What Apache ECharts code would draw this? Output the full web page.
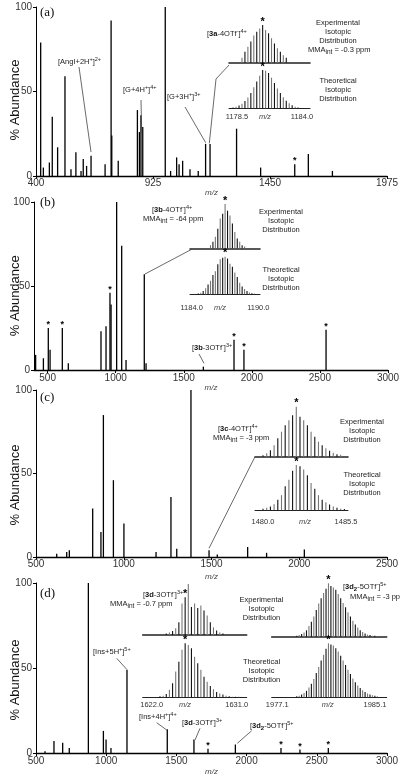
<!DOCTYPE html>
<html><head><meta charset="utf-8">
<script src="https://cdn.jsdelivr.net/npm/echarts@6/dist/echarts.min.js"></script>
<style>html,body{margin:0;padding:0;background:#fff}#c{width:400px;height:776px}</style>
</head><body><div id="c"></div>
<script>
// ---------- DATA ----------
// Panel (a)
const mzA = [421,433,460,473,497,530,557,579,602,612,627,647,710,737,740,769,855,864,871,879,980,1004,1031,1042,1058,1091,1128,1161,1181,1300,1408,1561,1622,1730];
const abA = [79,5,8,35,17,59,4,14,3,10,6,12,7,92,24,9,39,26,36,29,100,3,11,7,9,4,3,19,19,28,5,7,13,3];
const starsA = [1561];
const ticksA = [400,925,1450,1975];
// Panel (b)
const mzB = [412,469,505,518,608,652,892,929,958,966,1007,1044,1076,1210,1223,1644,1869,1942,2545];
const abB = [9,7,25,12,25,4,23,26,46,39,100,74,6,57,4,2,18,12,24];
const starsB = [505,608,958,1869,1942,2545];
const ticksB = [500,1000,1500,2000,2500,3000];
// Panel (c)
const mzC = [618,675,690,823,870,884,941,1001,1184,1269,1302,1383,1486,1533,1706,1814,2029];
const abC = [2,3,4,29,15,85,46,20,3,36,5,100,4,1.5,6,2.5,4.5];
const starsC = [];
const ticksC = [500,1000,1500,2000,2500];
// Panel (d)
const mzD = [564,628,690,737,873,980,999,1034,1148,1435,1625,1725,1920,2245,2380,2582];
const abD = [1,7,6,3,100,13,8,3,49,14,8,2.5,5,3,2,3];
const starsD = [1725,2245,2380,2582];
const ticksD = [500,1000,1500,2000,2500,3000];

// Isotopic insets: first isotope m/z, isotope spacing, theoretical / experimental heights
const isoA = {start:1178.17, step:0.25, star:10};
const theoA = [2,4,7,12,19,28,40,55,70,85,100,98,92,80,66,52,40,29,20,13,8,4,2];
const expA = [13,29,42,56,72,82,91,100,87,78,65,51,38,29,20,13]; const expAoff = 3;
const isoTicksA = [1178.5,1184.0];

const isoB = {start:1184.6, step:0.219, star:11};
const theoB = [2,4,9,16,26,36,51,61,80,93,97,100,95,81,73,58,46,31,21,14,9,5,3,2];
const expB = [7,15,26,44,67,78,100,85,74,56,37,22,15,7,4]; const expBoff = 5;
const isoTicksB = [1184.0,1190.0];

const isoC = {start:1480.0, step:0.245, star:9};
const theoC = [3,5,8,13,23,33,53,67,87,100,97,90,77,60,47,33,23,17,12,8,5,3,2];
const expC = [3,7,13,23,37,50,63,73,83,100,80,73,63,50,40,30,23,17,12,8,5,4]; const expCoff = 0;
const isoTicksC = [1480.0,1485.5];

const isoD1 = {start:1622.88, step:0.333, star:8};
const theoD1 = [2,3,6,14,26,48,66,88,100,97,91,75,63,51,38,29,21,15,10,7,5,3,2,1,1,1];
const expD1 = [3,5,8,13,25,62,74,100,55,62,53,58,48,38,25,15,9,5,3]; const expD1off = 2;
const isoTicksD1 = [1622.0,1631.0];

const isoD2 = {start:1978.69, step:0.2, star:13};
const theoD2 = [2,3,5,8,12,18,25,34,45,56,68,79,90,100,98,96,91,85,77,68,60,51,43,35,28,22,17,13,10,7,5,4,3,2];
const expD2 = [2,3,5,8,12,20,28,38,50,62,72,82,90,100,95,92,88,80,72,63,55,46,38,30,23,17,12,9,6,4,3,2,2,1]; const expD2off = 0;
const isoTicksD2 = [1977.1,1985.1];

// ---------- LAYOUT ----------
const F = "'Liberation Sans', Arial, sans-serif";
const SERIF = "'Liberation Serif', 'Times New Roman', serif";
const grids = [
  {left:36, top:7, width:351, height:169},
  {left:34, top:202, width:354, height:168},
  {left:36, top:390, width:351, height:167},
  {left:36, top:583, width:351, height:170},
  {left:229, top:25, width:81, height:37.7},
  {left:229, top:70, width:81, height:38.3},
  {left:190, top:204, width:70, height:44.3},
  {left:190, top:256.7, width:70, height:37.6},
  {left:255, top:406.7, width:93, height:50},
  {left:255, top:465, width:93, height:45},
  {left:142.7, top:584, width:104, height:51},
  {left:142.7, top:643.3, width:104, height:54},
  {left:271.7, top:583.3, width:115, height:53.4},
  {left:271.7, top:643.3, width:115, height:54}
].map(g => Object.assign({outerBoundsMode:'none', containLabel:false}, g));

const xAxes = [], yAxes = [], series = [];

function mainAxes(i, min, max, ticks, nameGap, lblMargin) {
  xAxes.push({gridIndex:i, type:'value', min, max,
    axisLine:{show:true, onZero:false, lineStyle:{color:'#000', width:1.4}},
    axisTick:{show:true, customValues:ticks, length:3, lineStyle:{color:'#000'}},
    axisLabel:{customValues:ticks, formatter:v => String(v), fontSize:10, color:'#333', fontFamily:F, margin:lblMargin},
    splitLine:{show:false},
    name:'m/z', nameLocation:'middle', nameGap,
    nameTextStyle:{fontStyle:'italic', fontSize:8, color:'#444', fontFamily:F}});
  yAxes.push({gridIndex:i, type:'value', min:0, max:100, interval:50,
    axisLine:{show:true, lineStyle:{color:'#000', width:1}},
    axisTick:{show:true, length:3, lineStyle:{color:'#000'}},
    axisLabel:{formatter:v => String(v), fontSize:10, color:'#333', fontFamily:F, margin:4},
    splitLine:{show:false}});
}
function insetAxes(i, min, max, ticks, exp, margin) {
  xAxes.push({gridIndex:i, type:'value', min, max,
    axisLine:{show:true, onZero:false, lineStyle:{color:'#222', width: exp ? 1.6 : 1}},
    axisTick:{show:false},
    axisLabel: exp ? {show:false} : {customValues:ticks, formatter:v => Number(v).toFixed(1), fontSize:7.5, color:'#333', fontFamily:F, margin},
    splitLine:{show:false}});
  yAxes.push({gridIndex:i, type:'value', min:0, max:100, show:false});
}
function spec(i, mz, ab, stars) {
  series.push({type:'bar', xAxisIndex:i, yAxisIndex:i, barWidth:1.3, silent:true, animation:false,
    itemStyle:{color:'#000'},
    data: mz.map((m, k) => {
      const d = {value:[m, ab[k]]};
      if (stars.includes(m)) d.label = {show:true, position:'top', distance:-1, formatter:'*', fontSize:9, fontWeight:'bold', color:'#000'};
      return d;
    })});
}
function iso(i, info, heights, offset) {
  series.push({type:'bar', xAxisIndex:i, yAxisIndex:i, barWidth:1.1, silent:true, animation:false,
    data: heights.map((h, k) => {
      const g = k + offset;
      const d = {value:[info.start + g * info.step, h], itemStyle:{color: g % 2 ? '#777' : '#111'}};
      if (g === info.star) d.label = {show:true, position:'top', distance:-2, formatter:'*', fontSize:11, fontWeight:'bold', color:'#000'};
      return d;
    })});
}

mainAxes(0, 400, 1975, ticksA, 12, 2);
mainAxes(1, 400, 3000, ticksB, 9, 3);
mainAxes(2, 500, 2500, ticksC, 16, 2);
mainAxes(3, 500, 3000, ticksD, 15, 3.5);
insetAxes(4, 1177.82, 1184.68, isoTicksA, true);
insetAxes(5, 1177.82, 1184.68, isoTicksA, false, 4.5);
insetAxes(6, 1183.85, 1190.15, isoTicksB, true);
insetAxes(7, 1183.85, 1190.15, isoTicksB, false, 10);
insetAxes(8, 1479.47, 1485.63, isoTicksC, true);
insetAxes(9, 1479.47, 1485.63, isoTicksC, false, 8);
insetAxes(10, 1621.05, 1632.06, isoTicksD1, true);
insetAxes(11, 1621.05, 1632.06, isoTicksD1, false, 4);
insetAxes(12, 1976.64, 1986.06, isoTicksD2, true);
insetAxes(13, 1976.64, 1986.06, isoTicksD2, false, 4);

spec(0, mzA, abA, starsA);
spec(1, mzB, abB, starsB);
spec(2, mzC, abC, starsC);
spec(3, mzD, abD, starsD);
iso(4, isoA, expA, expAoff);   iso(5, isoA, theoA, 0);
iso(6, isoB, expB, expBoff);   iso(7, isoB, theoB, 0);
iso(8, isoC, expC, expCoff);   iso(9, isoC, theoC, 0);
iso(10, isoD1, expD1, expD1off); iso(11, isoD1, theoD1, 0);
iso(12, isoD2, expD2, expD2off); iso(13, isoD2, theoD2, 0);

// ---------- ANNOTATIONS ----------
const RICH = {
  n:{fontSize:7.5, fontFamily:F, fill:'#222', lineHeight:11},
  b:{fontSize:7.5, fontFamily:F, fontWeight:'bold', fill:'#111', lineHeight:11},
  bs:{fontSize:6, fontFamily:F, fontWeight:'bold', fill:'#111', lineHeight:6, verticalAlign:'bottom'},
  sup:{fontSize:5.5, fontFamily:F, fill:'#222', lineHeight:6, verticalAlign:'top'},
  sub:{fontSize:6.5, fontFamily:F, fill:'#222', lineHeight:6.5, verticalAlign:'bottom'}
};
function T(x, y, text, extra) {
  return {type:'text', x, y, silent:true, z:10,
    style:Object.assign({text, fill:'#222', font:'7.5px ' + F, align:'left', verticalAlign:'middle', rich:RICH}, extra || {})};
}
function C(x, y, text) { return T(x, y, text, {align:'center'}); }
function L(points) {
  return {type:'polyline', silent:true, z:9, shape:{points}, style:{stroke:'#444', lineWidth:0.8, fill:null}};
}
function ylab(y) {
  return {type:'text', x:15, y, rotation:Math.PI/2, silent:true,
    style:{text:'% Abundance', font:'13px ' + F, fill:'#111', align:'center', verticalAlign:'middle'}};
}
function plab(x, y, t) { return T(x, y, t, {font:'13px ' + SERIF, fill:'#111'}); }
function mz(x, y) { return T(x, y, 'm/z', {font:'italic 7.5px ' + F, fill:'#444', align:'center'}); }
function desc(x, yE, yT) {
  return [C(x, yE, 'Experimental'), C(x, yE + 9, 'Isotopic'), C(x, yE + 18, 'Distribution'),
          C(x, yT, 'Theoretical'), C(x, yT + 9, 'Isotopic'), C(x, yT + 18, 'Distribution')];
}

const graphic = [
  ylab(100), ylab(295.7), ylab(485), ylab(680),
  plab(40, 13, '(a)'), plab(40, 203, '(b)'), plab(40, 398, '(c)'), plab(40, 594, '(d)'),
  mz(265, 117), mz(220, 308), mz(305, 522), mz(185, 705), mz(327.7, 705),
  ...desc(338, 23, 81), ...desc(281, 211.7, 270), ...desc(362, 422, 475), ...desc(261.5, 600, 661.7),
  // (a)
  T(207, 34, '{n|[}{b|3a}{n|-4OTf}{sup|-}{n|]}{sup|4+}'),
  T(308, 50, '{n|MMA}{sub|int}{n| = -0.3 ppm}'),
  T(58, 62, '{n|[AngI+2H}{sup|+}{n|]}{sup|2+}'),
  T(123, 90, '{n|[G+4H}{sup|+}{n|]}{sup|4+}'),
  T(167, 97, '{n|[G+3H}{sup|+}{n|]}{sup|3+}'),
  L([[79,67],[91,152]]), L([[141,100],[141.7,133]]), L([[185,107],[205.7,142.7]]),
  L([[229,65],[216,79],[209.3,143.3]]),
  // (b)
  T(152, 210, '{n|[}{b|3b}{n|-4OTf}{sup|-}{n|]}{sup|4+}'),
  T(143, 219, '{n|MMA}{sub|int}{n| = -64 ppm}'),
  T(192, 348, '{n|[}{b|3b}{n|-3OTf}{sup|-}{n|]}{sup|3+}'),
  L([[191.7,249.3],[145,274]]), L([[199,354],[204,363.3]]),
  // (c)
  T(218, 429, '{n|[}{b|3c}{n|-4OTf}{sup|-}{n|]}{sup|4+}'),
  T(213, 438, '{n|MMA}{sub|int}{n| = -3 ppm}'),
  L([[255,456.7],[209,548.3]]),
  // (d)
  T(143, 595, '{n|[}{b|3d}{n|-3OTf}{sup|-}{n|]}{sup|3+}'),
  T(110, 604, '{n|MMA}{sub|int}{n| = -0.7 ppm}'),
  T(343, 587, '{n|[}{b|3d}{bs|2}{n|-5OTf}{sup|-}{n|]}{sup|5+}'),
  T(350, 597, '{n|MMA}{sub|int}{n| = -3 ppm}'),
  T(93, 651.7, '{n|[Ins+5H}{sup|+}{n|]}{sup|5+}'),
  T(139, 716.7, '{n|[Ins+4H}{sup|+}{n|]}{sup|4+}'),
  T(182, 723.3, '{n|[}{b|3d}{n|-3OTf}{sup|-}{n|]}{sup|3+}'),
  T(250, 726, '{n|[}{b|3d}{bs|2}{n|-5OTf}{sup|-}{n|]}{sup|5+}'),
  L([[116.7,658.3],[126.7,669.3]]), L([[156.7,722.7],[166.7,730]]),
  L([[200,728.3],[195,740]]), L([[251.7,730.7],[237.3,743.3]])
];

const chart = echarts.init(document.getElementById('c'), null, {renderer:'canvas'});
chart.setOption({
  animation:false,
  backgroundColor:'#fff',
  grid:grids, xAxis:xAxes, yAxis:yAxes, series, graphic
});
</script></body></html>
